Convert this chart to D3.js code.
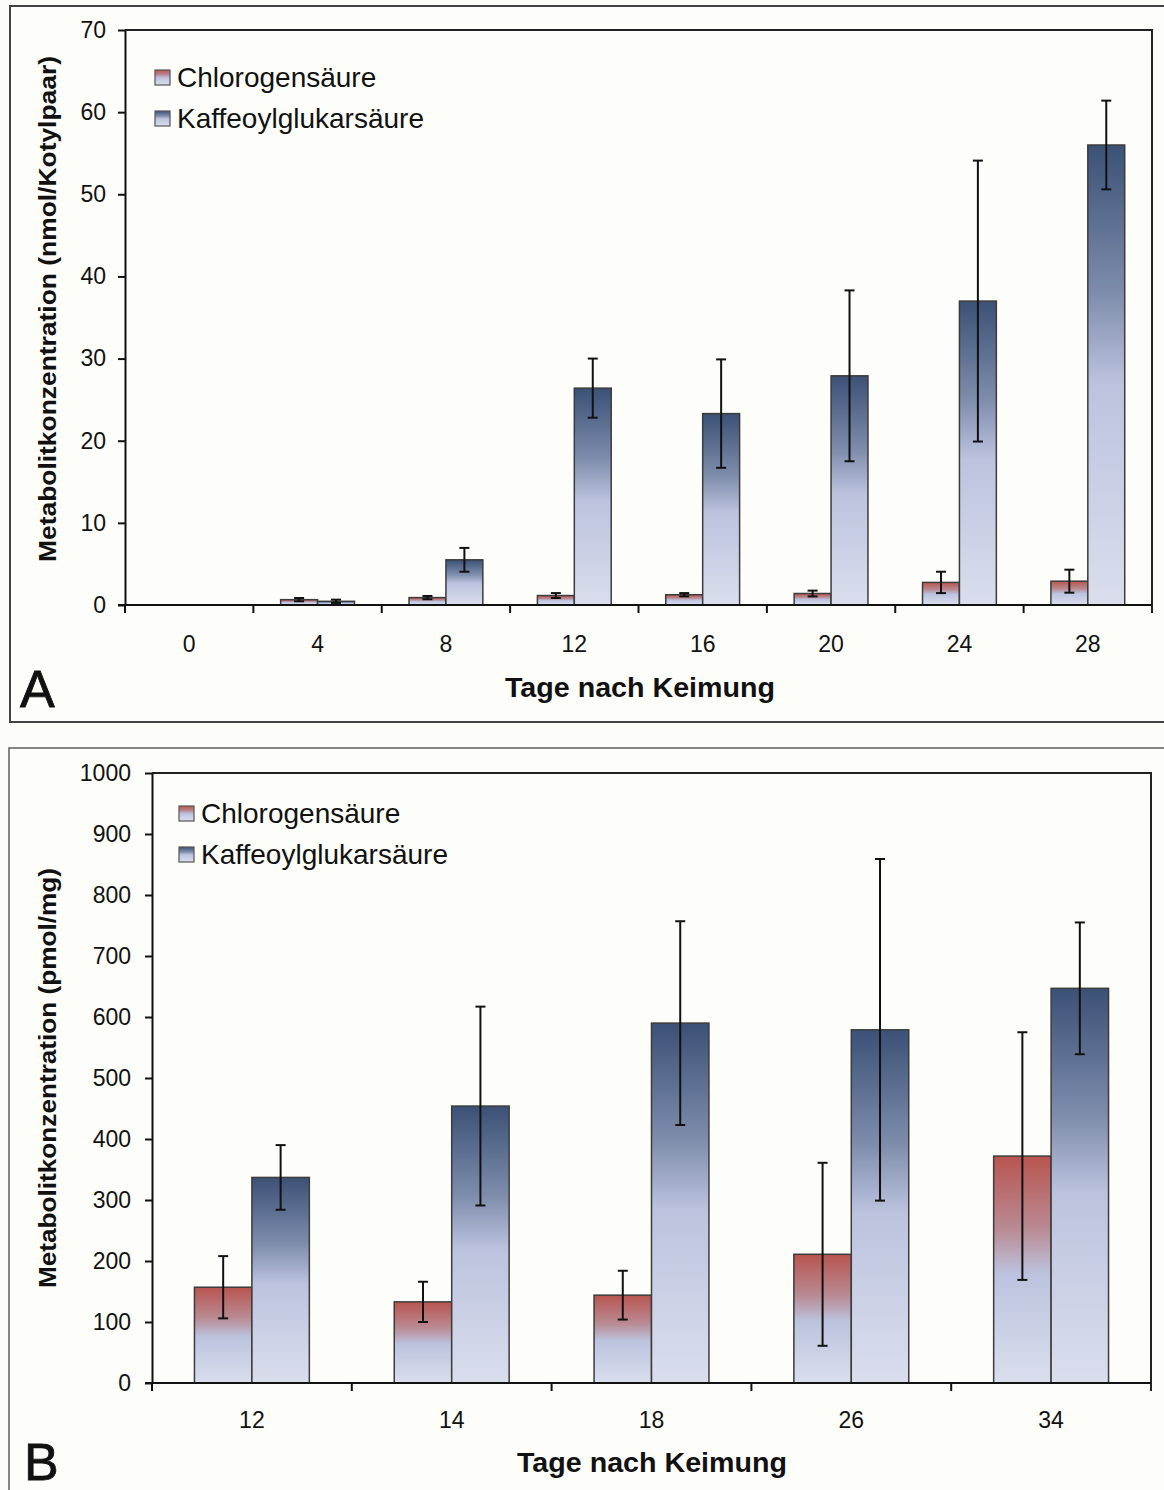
<!DOCTYPE html>
<html>
<head>
<meta charset="utf-8">
<script src="https://cdn.jsdelivr.net/npm/d3@7"></script>
<style>
  body { margin: 0; background: #fcfcf8; }
  svg { display: block; font-family: "Liberation Sans", Arial, sans-serif; }
  .axis path, .axis line { stroke: #111; stroke-width: 2; }
  .axis text { font-size: 23px; fill: #111; }
</style>
</head>
<body>
<div id="chart"></div>
<script>
const seriesNames = ["Chlorogensäure", "Kaffeoylglukarsäure"];

// Panel A: nmol/Kotylpaar
const daysA = ["0", "4", "8", "12", "16", "20", "24", "28"];
const chloroA = [0, 0.65, 0.9, 1.15, 1.25, 1.4, 2.75, 2.9];
const chloroErrA = [0, 0.2, 0.2, 0.3, 0.2, 0.35, 1.3, 1.4];
const kaffeeA = [0, 0.45, 5.5, 26.4, 23.3, 27.9, 37.0, 56.0];
const kaffeeErrA = [0, 0.2, 1.45, 3.6, 6.6, 10.4, 17.1, 5.4];
const ticksA = [0, 10, 20, 30, 40, 50, 60, 70];

// Panel B: pmol/mg
const daysB = ["12", "14", "18", "26", "34"];
const chloroB = [157, 133, 144, 211, 372];
const chloroErrB = [51, 33, 40, 150, 203];
const kaffeeB = [337, 454, 590, 579, 647];
const kaffeeErrB = [53, 163, 167, 280, 108];
const ticksB = [0, 100, 200, 300, 400, 500, 600, 700, 800, 900, 1000];

const width = 1164, height = 1490;

const svg = d3.select("#chart")
    .append("svg")
    .attr("width", width)
    .attr("height", height);

// gradients: dark at the top of each bar, light lavender below
const defs = svg.append("defs");
const grads = [
    {id: "gradChloro", top: "#b9554f", mid: "#b98a93"},
    {id: "gradKaffee", top: "#3b5176", mid: "#7d8cab"}
];
grads.forEach(g => {
    const lg = defs.append("linearGradient")
        .attr("id", g.id)
        .attr("x1", 0).attr("y1", 0).attr("x2", 0).attr("y2", 1);
    lg.append("stop").attr("offset", "0%").attr("stop-color", g.top);
    lg.append("stop").attr("offset", "32%").attr("stop-color", g.mid);
    lg.append("stop").attr("offset", "52%").attr("stop-color", "#bcc3de");
    lg.append("stop").attr("offset", "100%").attr("stop-color", "#dadeed");
});
const fills = ["url(#gradChloro)", "url(#gradKaffee)"];

// panel frames (right side runs past the picture)
svg.append("rect")
    .attr("x", 10).attr("y", 6).attr("width", 1200).attr("height", 716)
    .attr("fill", "#fdfdf9").attr("stroke", "#444").attr("stroke-width", 2);
svg.append("rect")
    .attr("x", 9).attr("y", 748).attr("width", 1200).attr("height", 800)
    .attr("fill", "#fdfdf9").attr("stroke", "#666").attr("stroke-width", 1.6);

function drawPanel(opt) {
    const g = svg.append("g");
    const {left, right, top, bottom} = opt;

    const x0 = d3.scaleBand()
        .domain(opt.days)
        .range([left, right]);

    const groupFrac = 0.575;
    const x1 = d3.scaleBand()
        .domain(seriesNames)
        .range([x0.bandwidth() * (1 - groupFrac) / 2, x0.bandwidth() * (1 + groupFrac) / 2]);

    const y = d3.scaleLinear()
        .domain([0, opt.yMax])
        .range([bottom, top]);

    // plot frame top and right
    g.append("path")
        .attr("d", `M${left},${top}H${right}V${bottom + 8}`)
        .attr("fill", "none").attr("stroke", "#222").attr("stroke-width", 2);

    const rows = opt.days.map((d, i) => ({
        day: d,
        vals: [
            {s: 0, v: opt.chloro[i], e: opt.chloroErr[i]},
            {s: 1, v: opt.kaffee[i], e: opt.kaffeeErr[i]}
        ]
    }));

    const grp = g.selectAll(".grp")
        .data(rows)
        .enter()
        .append("g")
        .attr("transform", d => `translate(${x0(d.day)},0)`);

    grp.selectAll("rect")
        .data(d => d.vals.filter(v => v.v > 0))
        .enter()
        .append("rect")
        .attr("x", d => x1(seriesNames[d.s]))
        .attr("width", x1.bandwidth())
        .attr("y", d => y(d.v))
        .attr("height", d => y(0) - y(d.v))
        .attr("fill", d => fills[d.s])
        .attr("stroke", "#3c3c3c")
        .attr("stroke-width", 1.5);

    // error bars
    const eb = grp.selectAll(".err")
        .data(d => d.vals.filter(v => v.e > 0))
        .enter()
        .append("g")
        .attr("stroke", "#111")
        .attr("stroke-width", 2);
    const cx = d => x1(seriesNames[d.s]) + x1.bandwidth() / 2;
    eb.append("line")
        .attr("x1", cx).attr("x2", cx)
        .attr("y1", d => y(d.v + d.e)).attr("y2", d => y(d.v - d.e));
    eb.append("line")
        .attr("x1", d => cx(d) - 5).attr("x2", d => cx(d) + 5)
        .attr("y1", d => y(d.v + d.e)).attr("y2", d => y(d.v + d.e));
    eb.append("line")
        .attr("x1", d => cx(d) - 5).attr("x2", d => cx(d) + 5)
        .attr("y1", d => y(d.v - d.e)).attr("y2", d => y(d.v - d.e));

    // y axis
    g.append("g")
        .attr("class", "axis")
        .attr("transform", `translate(${left},0)`)
        .call(d3.axisLeft(y).tickValues(opt.ticks).tickFormat(d3.format("d"))
            .tickSize(7).tickSizeOuter(0).tickPadding(opt.tickPad));

    // x axis: line, ticks between categories, labels
    const xa = g.append("g").attr("class", "axis");
    xa.append("line")
        .attr("x1", left - 7).attr("x2", right)
        .attr("y1", bottom).attr("y2", bottom);
    xa.selectAll(".xt")
        .data(opt.days)
        .enter()
        .append("line")
        .attr("x1", d => x0(d)).attr("x2", d => x0(d))
        .attr("y1", bottom).attr("y2", bottom + 8);
    xa.selectAll(".xl")
        .data(opt.days)
        .enter()
        .append("text")
        .attr("x", d => x0(d) + x0.bandwidth() / 2)
        .attr("y", opt.labelY)
        .attr("text-anchor", "middle")
        .text(d => d);

    // axis titles
    g.append("text")
        .attr("x", opt.xTitleX).attr("y", opt.xTitleY)
        .attr("text-anchor", "middle")
        .attr("font-size", 28).attr("font-weight", "bold").attr("fill", "#111")
        .attr("textLength", 270).attr("lengthAdjust", "spacingAndGlyphs")
        .text("Tage nach Keimung");

    g.append("text")
        .attr("transform", `translate(56,${opt.yTitleY}) rotate(-90)`)
        .attr("text-anchor", "middle")
        .attr("font-size", 23).attr("font-weight", "bold").attr("fill", "#111")
        .attr("textLength", opt.yTitleLen).attr("lengthAdjust", "spacingAndGlyphs")
        .text(opt.yTitle);

    // legend
    const lg = g.selectAll(".leg")
        .data(seriesNames)
        .enter()
        .append("g")
        .attr("transform", (d, i) => `translate(${opt.legX},${opt.legY + i * 41})`);
    lg.append("rect")
        .attr("x", 0).attr("y", -16).attr("width", 15).attr("height", 15)
        .attr("fill", (d, i) => fills[i])
        .attr("stroke", "#555").attr("stroke-width", 1.2);
    lg.append("text")
        .attr("x", 22).attr("y", 1)
        .attr("font-size", 28).attr("fill", "#111")
        .text(d => d);

    // panel letter
    g.append("text")
        .attr("x", opt.letterX).attr("y", opt.letterY)
        .attr("font-size", 52).attr("fill", "#111")
        .attr("stroke", "#111").attr("stroke-width", 0.8)
        .text(opt.letter);
}

drawPanel({
    days: daysA, chloro: chloroA, chloroErr: chloroErrA, kaffee: kaffeeA, kaffeeErr: kaffeeErrA,
    ticks: ticksA, yMax: 70, left: 125, right: 1152, top: 30, bottom: 605, tickPad: 12,
    labelY: 652, xTitleX: 640, xTitleY: 697,
    yTitle: "Metabolitkonzentration (nmol/Kotylpaar)", yTitleY: 309, yTitleLen: 506,
    legX: 155, legY: 86, letter: "A", letterX: 20, letterY: 707
});

drawPanel({
    days: daysB, chloro: chloroB, chloroErr: chloroErrB, kaffee: kaffeeB, kaffeeErr: kaffeeErrB,
    ticks: ticksB, yMax: 1000, left: 152, right: 1151, top: 773, bottom: 1383, tickPad: 14,
    labelY: 1428, xTitleX: 652, xTitleY: 1472,
    yTitle: "Metabolitkonzentration (pmol/mg)", yTitleY: 1078, yTitleLen: 420,
    legX: 179, legY: 822, letter: "B", letterX: 24, letterY: 1480
});
</script>
</body>
</html>
